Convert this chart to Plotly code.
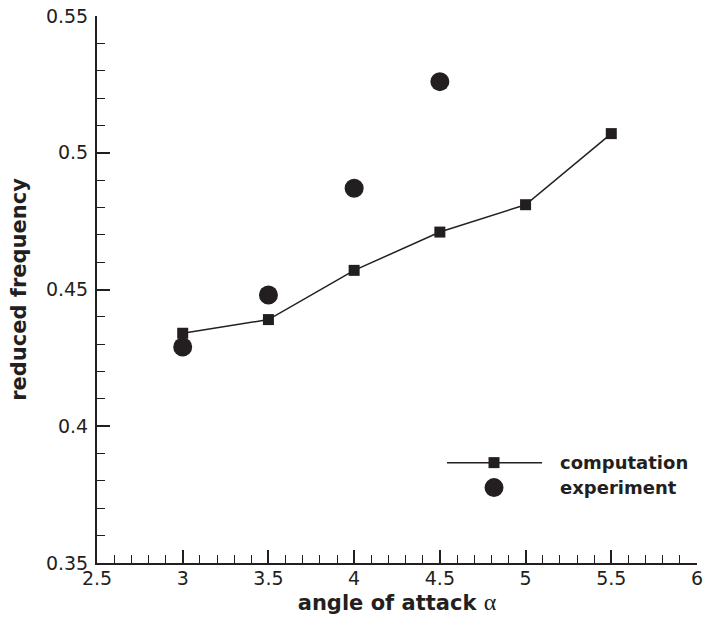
import plotly.graph_objects as go

# Reduced frequency vs. angle of attack
alpha_comp = [3.0, 3.5, 4.0, 4.5, 5.0, 5.5]
freq_comp = [0.434, 0.439, 0.457, 0.471, 0.481, 0.507]

alpha_exp = [3.0, 3.5, 4.0, 4.5]
freq_exp = [0.429, 0.448, 0.487, 0.526]

x_ticks = [2.5, 3, 3.5, 4, 4.5, 5, 5.5, 6]
y_ticks = [0.35, 0.4, 0.45, 0.5, 0.55]

INK = "#231f20"
FONT = "DejaVu Sans, Liberation Sans, Arial, sans-serif"

fig = go.Figure()
fig.add_trace(go.Scatter(
    x=alpha_comp, y=freq_comp, mode="lines+markers", name="computation",
    line=dict(color=INK, width=1.5),
    marker=dict(symbol="square", size=11, color=INK),
    showlegend=False,
))
fig.add_trace(go.Scatter(
    x=alpha_exp, y=freq_exp, mode="markers", name="experiment",
    marker=dict(symbol="circle", size=19, color=INK),
    showlegend=False,
))

axis_common = dict(
    showline=True, linecolor=INK, linewidth=2, mirror=False,
    showgrid=False, zeroline=False,
    ticks="inside", ticklen=13, tickwidth=1.5, tickcolor=INK,
    tickfont=dict(family=FONT, size=19, color=INK),
    ticklabeloverflow="allow",
)

fig.update_xaxes(
    range=[2.5, 6], tickvals=x_ticks,
    minor=dict(dtick=0.1, ticks="inside", ticklen=8, tickwidth=1.2, tickcolor=INK),
    title=dict(
        text="angle of attack <span style='font-family:Times New Roman, serif;font-weight:normal;font-size:24px'>α</span>",
        font=dict(family=FONT, size=21, color=INK, weight="bold"),
        standoff=0,
    ),
    ticklabelstandoff=-3,
    **axis_common,
)
fig.update_yaxes(
    range=[0.35, 0.55], tickvals=y_ticks,
    minor=dict(dtick=0.01, ticks="inside", ticklen=8, tickwidth=1.2, tickcolor=INK),
    title=dict(
        text="reduced frequency",
        font=dict(family=FONT, size=21, color=INK, weight="bold"),
        standoff=14,
    ),
    ticklabelstandoff=3,
    **axis_common,
)

# Legend block drawn in the lower right of the plot area
leg_x = 0.6617
leg_y1 = 0.1835
leg_y2 = 0.1378
shapes = [
    dict(type="line", xref="paper", yref="paper", x0=0.5833, x1=0.7417,
         y0=leg_y1, y1=leg_y1, line=dict(color=INK, width=1.5)),
    dict(type="rect", xref="paper", yref="paper",
         xsizemode="pixel", ysizemode="pixel", xanchor=leg_x, yanchor=leg_y1,
         x0=-5.5, x1=5.5, y0=-5.5, y1=5.5, fillcolor=INK, line=dict(width=0)),
    dict(type="circle", xref="paper", yref="paper",
         xsizemode="pixel", ysizemode="pixel", xanchor=leg_x, yanchor=leg_y2,
         x0=-9.5, x1=9.5, y0=-9.5, y1=9.5, fillcolor=INK, line=dict(width=0)),
]
annotations = [
    dict(xref="paper", yref="paper", x=0.768, y=leg_y1, text="computation",
         showarrow=False, xanchor="left", yanchor="middle",
         font=dict(family=FONT, size=18, color=INK, weight="bold")),
    dict(xref="paper", yref="paper", x=0.768, y=leg_y2, text="experiment",
         showarrow=False, xanchor="left", yanchor="middle",
         font=dict(family=FONT, size=18, color=INK, weight="bold")),
]

fig.update_layout(
    width=703, height=618,
    margin=dict(l=97, r=6, t=16, b=55, autoexpand=False),
    plot_bgcolor="white", paper_bgcolor="white",
    shapes=shapes, annotations=annotations,
    showlegend=False,
)

fig.write_html("out.html")
